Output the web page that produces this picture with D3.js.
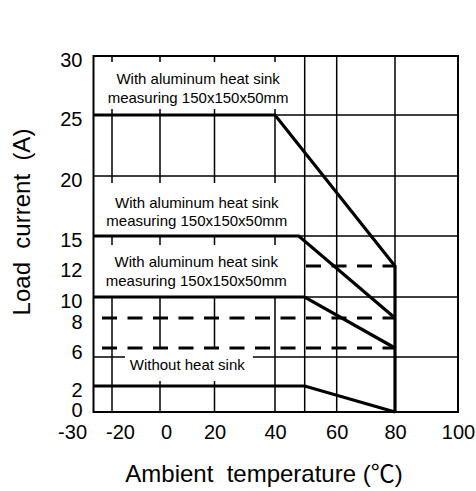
<!DOCTYPE html>
<html>
<head>
<meta charset="utf-8">
<script src="https://cdn.jsdelivr.net/npm/d3@7"></script>
<style>
  html, body { margin: 0; padding: 0; background: #fff; }
  svg { display: block; font-family: "Liberation Sans", Arial, "Noto Sans CJK SC", sans-serif; }
</style>
</head>
<body>
<svg width="476" height="491"></svg>
<script>
// DATA

var xTicks = [-30, -20, 0, 20, 40, 60, 80, 100];
var xGrid = [-20, 0, 20, 40, 50, 60, 80];
var yTicks = [0, 2, 6, 8, 10, 12, 15, 20, 25, 30];
var yGrid = [5, 10, 15, 20, 25];

// derating curves (temperature, current)
var curve25 = [[-30, 25], [40, 25], [80, 12], [80, 0]];
var curve15 = [[-30, 15], [48, 15], [80, 8]];
var curve10 = [[-30, 10], [50, 10], [80, 6]];
var curve2 = [[-30, 2], [50, 2], [80, 0]];

// dashed reference levels
var dash12 = [[50, 12], [80, 12]];
var dash8 = [[-30, 8], [80, 8]];
var dash6 = [[-30, 6], [80, 6]];

var label25 = ["With aluminum heat sink", "measuring 150x150x50mm"];
var label15 = ["With aluminum heat sink", "measuring 150x150x50mm"];
var label10 = ["With aluminum heat sink", "measuring 150x150x50mm"];
var label2 = ["Without heat sink"];

var xTitle = "Ambient  temperature (\u2103)";
var yTitle = "Load  current  (A)";

// SETUP

var svg = d3.select("svg");

// the printed axes are not evenly spaced, so both scales are piecewise
var x = d3.scaleLinear()
    .domain([-30, -20, 0, 20, 40, 50, 60, 80, 100])
    .range([93.5, 112, 160, 214.5, 275, 304.7, 336.7, 395, 458]);

var y = d3.scaleLinear()
    .domain([0, 2, 5, 6, 8, 10, 12, 15, 20, 25, 30])
    .range([412, 386, 357, 348, 318, 297, 266, 236, 176, 115, 56]);

var line = d3.line()
    .x(function (d) { return x(d[0]); })
    .y(function (d) { return y(d[1]); });

// GRID

svg.append("g").selectAll("line")
    .data(xGrid)
    .enter().append("line")
    .attr("x1", function (d) { return x(d); })
    .attr("x2", function (d) { return x(d); })
    .attr("y1", y(30))
    .attr("y2", y(0))
    .attr("stroke", "#000")
    .attr("stroke-width", 1.5);

svg.append("g").selectAll("line")
    .data(yGrid)
    .enter().append("line")
    .attr("x1", x(-30))
    .attr("x2", x(100))
    .attr("y1", function (d) { return y(d); })
    .attr("y2", function (d) { return y(d); })
    .attr("stroke", "#000")
    .attr("stroke-width", 1.5);

// LABEL BOXES (white patches that hide the grid)

var boxes = [
    { lines: label25, x0: -30, x1: 48.5, hi: 30, lo: 25, padTop: 6, padBot: 6, cx: 14, base: 28.3 },
    { lines: label15, x0: -30, x1: 48.5, hi: 20, lo: 15, padTop: 7, padBot: 1, cx: 13.5, base: 31.7 },
    { lines: label10, x0: -30, x1: 48.5, hi: 15, lo: 10, padTop: 9, padBot: 1, cx: 13.3, base: 31 },
    { lines: label2, x0: -15, x1: 32.7, hi: 6, lo: 2, padTop: 1, padBot: 5, cx: 10, base: 22 }
];

svg.append("g").selectAll("rect")
    .data(boxes)
    .enter().append("rect")
    .attr("x", function (d) { return x(d.x0) + 1; })
    .attr("width", function (d) { return x(d.x1) - x(d.x0) - 1; })
    .attr("y", function (d) { return y(d.hi) + d.padTop; })
    .attr("height", function (d) { return y(d.lo) - y(d.hi) - d.padTop - d.padBot; })
    .attr("fill", "#fff");

// FRAME

svg.append("rect")
    .attr("x", x(-30))
    .attr("y", y(30))
    .attr("width", x(100) - x(-30))
    .attr("height", y(0) - y(30))
    .attr("fill", "none")
    .attr("stroke", "#000")
    .attr("stroke-width", 2);

// DASHED LEVELS (pattern kept in phase across the plot)

var dashOrigin = 102, dashPeriod = 25.5;

svg.append("g").selectAll("path")
    .data([dash12, dash8, dash6])
    .enter().append("path")
    .attr("d", line)
    .attr("fill", "none")
    .attr("stroke", "#000")
    .attr("stroke-width", 3.2)
    .attr("stroke-dasharray", "15,10.5")
    .attr("stroke-dashoffset", function (d) {
        var o = (x(d[0][0]) - dashOrigin) % dashPeriod;
        return o < 0 ? o + dashPeriod : o;
    });

// CURVES

svg.append("g").selectAll("path")
    .data([curve25, curve15, curve10, curve2])
    .enter().append("path")
    .attr("d", line)
    .attr("fill", "none")
    .attr("stroke", "#000")
    .attr("stroke-width", 3.2)
    .attr("stroke-linejoin", "miter");

// BOX TEXT

boxes.forEach(function (b) {
    svg.append("text")
        .attr("text-anchor", "middle")
        .attr("font-size", 15)
        .selectAll("tspan")
        .data(b.lines)
        .enter().append("tspan")
        .attr("x", x(b.cx))
        .attr("y", function (d, i) { return y(b.hi) + b.base + i * 18.5; })
        .text(function (d) { return d; });
});

// AXES

// plain hyphen for negatives, like the printed chart
var fmt = function (d) { return String(d); };

var xAxis = svg.append("g")
    .attr("transform", "translate(0," + y(0) + ")")
    .call(d3.axisBottom(x).tickValues(xTicks).tickSize(0).tickPadding(13).tickFormat(fmt));

var yAxis = svg.append("g")
    .attr("transform", "translate(" + x(-30) + ",0)")
    .call(d3.axisLeft(y).tickValues(yTicks).tickSize(0).tickPadding(11).tickFormat(fmt));

[xAxis, yAxis].forEach(function (a) {
    a.select(".domain").remove();
    a.selectAll("text")
        .attr("font-family", null)
        .attr("font-size", 20)
        .attr("fill", "#000");
});

// the 0 label is lifted a touch so it clears the -30 below it
yAxis.selectAll("text").attr("dy", function (d) { return d === 0 ? "0.22em" : "0.5em"; });

// labels near the corner are pushed aside in the original
var xNudge = { "-30": -7, "-20": 8, "0": 6 };
xAxis.selectAll(".tick text")
    .attr("x", function (d) { return xNudge[d] || 0; })
    .filter(function (d) { return d === -30; })
    .attr("text-anchor", "end");

// TITLES

svg.append("text")
    .attr("x", 264)
    .attr("y", 481.7)
    .attr("text-anchor", "middle")
    .attr("font-size", 24)
    .style("white-space", "pre")
    .text(xTitle);

svg.append("text")
    .attr("transform", "translate(29.5,222) rotate(-90)")
    .attr("text-anchor", "middle")
    .attr("font-size", 24)
    .style("white-space", "pre")
    .text(yTitle);
</script>
</body>
</html>
